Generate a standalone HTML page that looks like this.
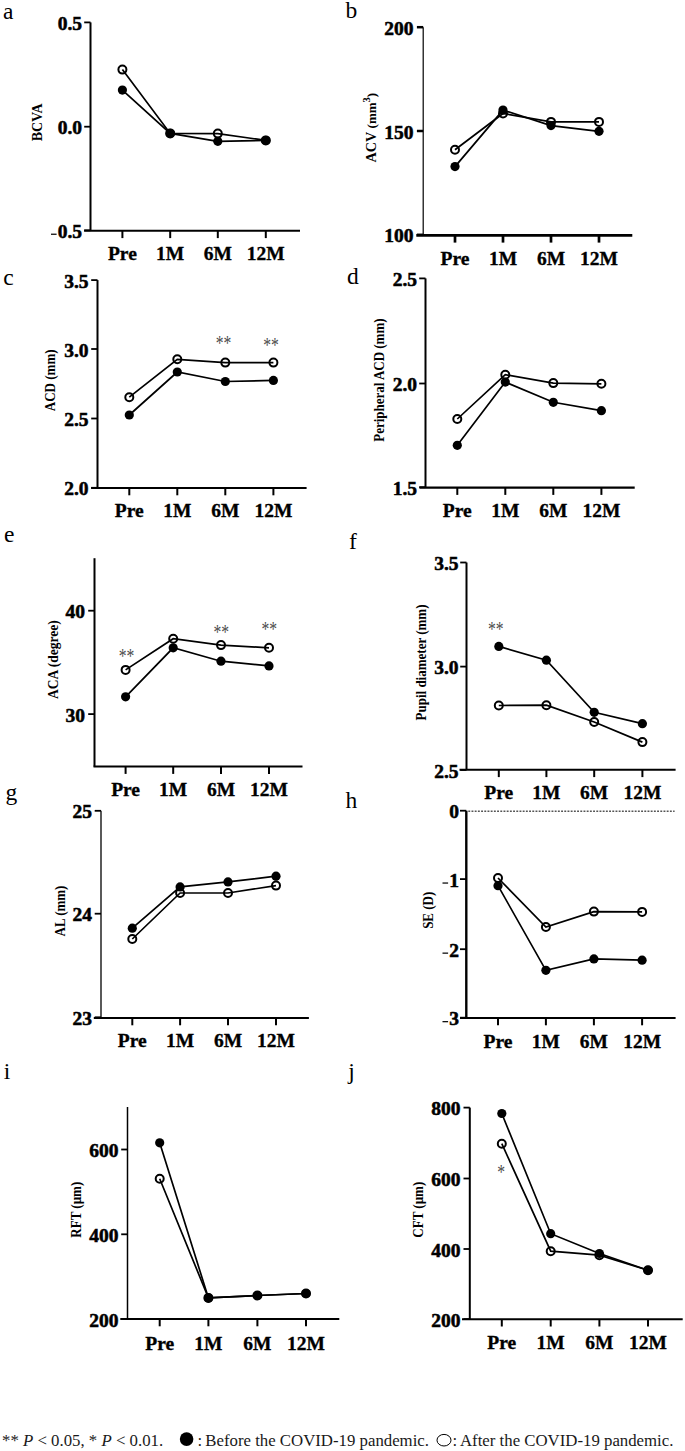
<!DOCTYPE html>
<html><head><meta charset="utf-8"><title>Figure</title>
<style>
html,body{margin:0;padding:0;background:#fff;}
body{width:685px;height:1451px;overflow:hidden;}
svg{display:block;}
text{font-family:"Liberation Serif",serif;fill:#000;}
.pl{font-size:23.5px;}
.tk{font-size:19.5px;font-weight:bold;text-anchor:end;stroke:#000;stroke-width:0.55px;}
.ct{font-size:19.5px;font-weight:bold;text-anchor:middle;stroke:#000;stroke-width:0.35px;}
.tb{font-weight:bold;text-anchor:middle;}
.tr{text-anchor:middle;}
.st{font-size:17px;fill:#4a4a4a;text-anchor:middle;}
.lg{font-size:16.8px;fill:#1a1a1a;}
</style></head>
<body><svg width="685" height="1451" viewBox="0 0 685 1451">
<rect width="685" height="1451" fill="#fff"/>
<g>
<text x="3.1" y="19.4" class="pl">a</text>
<line x1="90.5" y1="22.4" x2="90.5" y2="230.8" stroke="#000" stroke-width="2"/>
<line x1="84.1" y1="230.8" x2="300" y2="230.8" stroke="#000" stroke-width="2"/>
<line x1="84.2" y1="22.4" x2="90.5" y2="22.4" stroke="#000" stroke-width="1.8"/>
<text x="82" y="30.0" class="tk">0.5</text>
<line x1="84.2" y1="126.7" x2="90.5" y2="126.7" stroke="#000" stroke-width="1.8"/>
<text x="82" y="134.3" class="tk">0.0</text>
<line x1="84.2" y1="230.3" x2="90.5" y2="230.3" stroke="#000" stroke-width="1.8"/>
<text x="82" y="237.9" class="tk">0.5</text>
<rect x="51.0" y="233.60000000000002" width="5.6" height="1.3" fill="#111"/>
<line x1="122.4" y1="230.8" x2="122.4" y2="238.10000000000002" stroke="#000" stroke-width="2.0"/>
<text x="122.4" y="260.3" class="ct">Pre</text>
<line x1="170.2" y1="230.8" x2="170.2" y2="238.10000000000002" stroke="#000" stroke-width="2.0"/>
<text x="170.2" y="260.3" class="ct">1M</text>
<line x1="217.8" y1="230.8" x2="217.8" y2="238.10000000000002" stroke="#000" stroke-width="2.0"/>
<text x="217.8" y="260.3" class="ct">6M</text>
<line x1="265.8" y1="230.8" x2="265.8" y2="238.10000000000002" stroke="#000" stroke-width="2.0"/>
<text x="265.8" y="260.3" class="ct">12M</text>
<text transform="translate(42.199999999999996,122.4) rotate(-90) scale(1,1)" class="tb" font-size="14">BCVA</text>
<polyline points="122.4,90.1 170.2,133.4 217.8,141.3 265.8,140.4" fill="none" stroke="#000" stroke-width="1.7"/>
<polyline points="122.4,69.6 170.2,133.4 217.8,133.6 265.8,140.4" fill="none" stroke="#000" stroke-width="1.7"/>
<circle cx="122.4" cy="69.6" r="4.0" fill="none" stroke="#000" stroke-width="2"/>
<circle cx="170.2" cy="133.4" r="4.0" fill="none" stroke="#000" stroke-width="2"/>
<circle cx="217.8" cy="133.6" r="4.0" fill="none" stroke="#000" stroke-width="2"/>
<circle cx="265.8" cy="140.4" r="4.0" fill="none" stroke="#000" stroke-width="2"/>
<circle cx="122.4" cy="90.1" r="4.6" fill="#000"/>
<circle cx="170.2" cy="133.4" r="4.6" fill="#000"/>
<circle cx="217.8" cy="141.3" r="4.6" fill="#000"/>
<circle cx="265.8" cy="140.4" r="4.6" fill="#000"/>
</g>
<g>
<text x="345.5" y="17.9" class="pl">b</text>
<line x1="423.2" y1="27.2" x2="423.2" y2="235.3" stroke="#000" stroke-width="1.2"/>
<line x1="416.3" y1="235.3" x2="632.3" y2="235.3" stroke="#000" stroke-width="2.7"/>
<line x1="416.9" y1="27.2" x2="423.2" y2="27.2" stroke="#000" stroke-width="2.5"/>
<text x="413.5" y="34.8" class="tk">200</text>
<line x1="416.9" y1="131" x2="423.2" y2="131" stroke="#000" stroke-width="2.5"/>
<text x="413.5" y="138.6" class="tk">150</text>
<line x1="416.9" y1="234.8" x2="423.2" y2="234.8" stroke="#000" stroke-width="2.5"/>
<text x="413.5" y="242.4" class="tk">100</text>
<line x1="455" y1="235.3" x2="455" y2="242.60000000000002" stroke="#000" stroke-width="2.7"/>
<text x="455" y="264.9" class="ct">Pre</text>
<line x1="503" y1="235.3" x2="503" y2="242.60000000000002" stroke="#000" stroke-width="2.7"/>
<text x="503" y="264.9" class="ct">1M</text>
<line x1="551" y1="235.3" x2="551" y2="242.60000000000002" stroke="#000" stroke-width="2.7"/>
<text x="551" y="264.9" class="ct">6M</text>
<line x1="599" y1="235.3" x2="599" y2="242.60000000000002" stroke="#000" stroke-width="2.7"/>
<text x="599" y="264.9" class="ct">12M</text>
<text transform="translate(375.8,127.6) rotate(-90) scale(1,1)" class="tb" font-size="13"><tspan font-size="14.2">ACV</tspan> <tspan font-size="13">(mm</tspan><tspan dy="-5.5" font-size="10.5">3</tspan><tspan dy="5.5" font-size="13">)</tspan></text>
<polyline points="455,166.6 503,110.1 551,125.6 599,131.3" fill="none" stroke="#000" stroke-width="1.7"/>
<polyline points="455,149.8 503,113.5 551,121.9 599,121.9" fill="none" stroke="#000" stroke-width="1.7"/>
<circle cx="455" cy="149.8" r="4.0" fill="none" stroke="#000" stroke-width="2"/>
<circle cx="503" cy="113.5" r="4.0" fill="none" stroke="#000" stroke-width="2"/>
<circle cx="551" cy="121.9" r="4.0" fill="none" stroke="#000" stroke-width="2"/>
<circle cx="599" cy="121.9" r="4.0" fill="none" stroke="#000" stroke-width="2"/>
<circle cx="455" cy="166.6" r="4.6" fill="#000"/>
<circle cx="503" cy="110.1" r="4.6" fill="#000"/>
<circle cx="551" cy="125.6" r="4.6" fill="#000"/>
<circle cx="599" cy="131.3" r="4.6" fill="#000"/>
</g>
<g>
<text x="3.2" y="285.1" class="pl">c</text>
<line x1="97.5" y1="280.1" x2="97.5" y2="488.0" stroke="#000" stroke-width="2"/>
<line x1="91.1" y1="488.0" x2="306.6" y2="488.0" stroke="#000" stroke-width="2"/>
<line x1="91.2" y1="280.1" x2="97.5" y2="280.1" stroke="#000" stroke-width="1.8"/>
<text x="88.5" y="287.70000000000005" class="tk">3.5</text>
<line x1="91.2" y1="349" x2="97.5" y2="349" stroke="#000" stroke-width="1.8"/>
<text x="88.5" y="356.6" class="tk">3.0</text>
<line x1="91.2" y1="418.5" x2="97.5" y2="418.5" stroke="#000" stroke-width="1.8"/>
<text x="88.5" y="426.1" class="tk">2.5</text>
<line x1="91.2" y1="487.8" x2="97.5" y2="487.8" stroke="#000" stroke-width="1.8"/>
<text x="88.5" y="495.40000000000003" class="tk">2.0</text>
<line x1="129.3" y1="488.0" x2="129.3" y2="495.3" stroke="#000" stroke-width="2.0"/>
<text x="129.3" y="517.1" class="ct">Pre</text>
<line x1="177.3" y1="488.0" x2="177.3" y2="495.3" stroke="#000" stroke-width="2.0"/>
<text x="177.3" y="517.1" class="ct">1M</text>
<line x1="225.3" y1="488.0" x2="225.3" y2="495.3" stroke="#000" stroke-width="2.0"/>
<text x="225.3" y="517.1" class="ct">6M</text>
<line x1="273.4" y1="488.0" x2="273.4" y2="495.3" stroke="#000" stroke-width="2.0"/>
<text x="273.4" y="517.1" class="ct">12M</text>
<text transform="translate(55.0,380.3) rotate(-90) scale(1,1.2)" class="tb" font-size="13">ACD (mm)</text>
<polyline points="129.3,415 177.3,372 225.3,381.5 273.4,380.4" fill="none" stroke="#000" stroke-width="1.7"/>
<polyline points="129.3,397.2 177.3,359.3 225.3,362.6 273.4,362.6" fill="none" stroke="#000" stroke-width="1.7"/>
<circle cx="129.3" cy="397.2" r="4.0" fill="none" stroke="#000" stroke-width="2"/>
<circle cx="177.3" cy="359.3" r="4.0" fill="none" stroke="#000" stroke-width="2"/>
<circle cx="225.3" cy="362.6" r="4.0" fill="none" stroke="#000" stroke-width="2"/>
<circle cx="273.4" cy="362.6" r="4.0" fill="none" stroke="#000" stroke-width="2"/>
<circle cx="129.3" cy="415" r="4.6" fill="#000"/>
<circle cx="177.3" cy="372" r="4.6" fill="#000"/>
<circle cx="225.3" cy="381.5" r="4.6" fill="#000"/>
<circle cx="273.4" cy="380.4" r="4.6" fill="#000"/>
<text transform="translate(223.5,349.7) scale(0.92,1.22)" class="st">**</text>
<text transform="translate(271.1,352.2) scale(0.92,1.22)" class="st">**</text>
</g>
<g>
<text x="347.0" y="283.6" class="pl">d</text>
<line x1="425.5" y1="278.4" x2="425.5" y2="487.6" stroke="#000" stroke-width="2"/>
<line x1="419.5" y1="487.6" x2="634.7" y2="487.6" stroke="#000" stroke-width="2.4"/>
<line x1="419.2" y1="278.4" x2="425.5" y2="278.4" stroke="#000" stroke-width="1.8"/>
<text x="417" y="286.0" class="tk">2.5</text>
<line x1="419.2" y1="383.5" x2="425.5" y2="383.5" stroke="#000" stroke-width="1.8"/>
<text x="417" y="391.1" class="tk">2.0</text>
<line x1="419.2" y1="487.2" x2="425.5" y2="487.2" stroke="#000" stroke-width="1.8"/>
<text x="417" y="494.8" class="tk">1.5</text>
<line x1="457.3" y1="487.6" x2="457.3" y2="494.90000000000003" stroke="#000" stroke-width="2.0"/>
<text x="457.3" y="517.1" class="ct">Pre</text>
<line x1="505.3" y1="487.6" x2="505.3" y2="494.90000000000003" stroke="#000" stroke-width="2.0"/>
<text x="505.3" y="517.1" class="ct">1M</text>
<line x1="553.3" y1="487.6" x2="553.3" y2="494.90000000000003" stroke="#000" stroke-width="2.0"/>
<text x="553.3" y="517.1" class="ct">6M</text>
<line x1="601.4" y1="487.6" x2="601.4" y2="494.90000000000003" stroke="#000" stroke-width="2.0"/>
<text x="601.4" y="517.1" class="ct">12M</text>
<text transform="translate(383.90000000000003,380.1) rotate(-90) scale(1,1.15)" class="tb" font-size="13">Peripheral ACD (mm)</text>
<polyline points="457.3,445.3 505.3,382.1 553.3,402.3 601.4,410.7" fill="none" stroke="#000" stroke-width="1.7"/>
<polyline points="457.3,419 505.3,374.7 553.3,383.1 601.4,383.8" fill="none" stroke="#000" stroke-width="1.7"/>
<circle cx="457.3" cy="419" r="4.0" fill="none" stroke="#000" stroke-width="2"/>
<circle cx="505.3" cy="374.7" r="4.0" fill="none" stroke="#000" stroke-width="2"/>
<circle cx="553.3" cy="383.1" r="4.0" fill="none" stroke="#000" stroke-width="2"/>
<circle cx="601.4" cy="383.8" r="4.0" fill="none" stroke="#000" stroke-width="2"/>
<circle cx="457.3" cy="445.3" r="4.6" fill="#000"/>
<circle cx="505.3" cy="382.1" r="4.6" fill="#000"/>
<circle cx="553.3" cy="402.3" r="4.6" fill="#000"/>
<circle cx="601.4" cy="410.7" r="4.6" fill="#000"/>
</g>
<g>
<text x="4.1" y="541.6" class="pl">e</text>
<line x1="94.5" y1="558.2" x2="94.5" y2="766.6" stroke="#000" stroke-width="2"/>
<line x1="93.5" y1="766.6" x2="302.5" y2="766.6" stroke="#000" stroke-width="2"/>
<line x1="88.2" y1="610.7" x2="94.5" y2="610.7" stroke="#000" stroke-width="1.8"/>
<text x="85" y="618.3000000000001" class="tk">40</text>
<line x1="88.2" y1="714.1" x2="94.5" y2="714.1" stroke="#000" stroke-width="1.8"/>
<text x="85" y="721.7" class="tk">30</text>
<line x1="125.6" y1="766.6" x2="125.6" y2="773.9" stroke="#000" stroke-width="2.0"/>
<text x="125.6" y="795.7" class="ct">Pre</text>
<line x1="173.2" y1="766.6" x2="173.2" y2="773.9" stroke="#000" stroke-width="2.0"/>
<text x="173.2" y="795.7" class="ct">1M</text>
<line x1="221" y1="766.6" x2="221" y2="773.9" stroke="#000" stroke-width="2.0"/>
<text x="221" y="795.7" class="ct">6M</text>
<line x1="269" y1="766.6" x2="269" y2="773.9" stroke="#000" stroke-width="2.0"/>
<text x="269" y="795.7" class="ct">12M</text>
<text transform="translate(57.5,659.6) rotate(-90) scale(1,1.1)" class="tb" font-size="13.5">ACA (degree)</text>
<polyline points="125.6,696.8 173.2,647.8 221,661.2 269,665.9" fill="none" stroke="#000" stroke-width="1.7"/>
<polyline points="125.6,669.9 173.2,638.7 221,645.1 269,647.8" fill="none" stroke="#000" stroke-width="1.7"/>
<circle cx="125.6" cy="669.9" r="4.0" fill="none" stroke="#000" stroke-width="2"/>
<circle cx="173.2" cy="638.7" r="4.0" fill="none" stroke="#000" stroke-width="2"/>
<circle cx="221" cy="645.1" r="4.0" fill="none" stroke="#000" stroke-width="2"/>
<circle cx="269" cy="647.8" r="4.0" fill="none" stroke="#000" stroke-width="2"/>
<circle cx="125.6" cy="696.8" r="4.6" fill="#000"/>
<circle cx="173.2" cy="647.8" r="4.6" fill="#000"/>
<circle cx="221" cy="661.2" r="4.6" fill="#000"/>
<circle cx="269" cy="665.9" r="4.6" fill="#000"/>
<text transform="translate(126.6,662.7) scale(0.92,1.22)" class="st">**</text>
<text transform="translate(221.3,638.5) scale(0.92,1.22)" class="st">**</text>
<text transform="translate(269.3,635.6) scale(0.92,1.22)" class="st">**</text>
</g>
<g>
<text x="349.0" y="548.6" class="pl">f</text>
<line x1="466.5" y1="562.5" x2="466.5" y2="769.8" stroke="#000" stroke-width="2"/>
<line x1="459.5" y1="769.8" x2="675.6" y2="769.8" stroke="#000" stroke-width="2"/>
<line x1="460.2" y1="562.5" x2="466.5" y2="562.5" stroke="#000" stroke-width="1.8"/>
<text x="458.5" y="570.1" class="tk">3.5</text>
<line x1="460.2" y1="666.6" x2="466.5" y2="666.6" stroke="#000" stroke-width="1.8"/>
<text x="458.5" y="674.2" class="tk">3.0</text>
<line x1="460.2" y1="770" x2="466.5" y2="770" stroke="#000" stroke-width="1.8"/>
<text x="458.5" y="777.6" class="tk">2.5</text>
<line x1="498.8" y1="769.8" x2="498.8" y2="777.0999999999999" stroke="#000" stroke-width="2.0"/>
<text x="498.8" y="799.3000000000001" class="ct">Pre</text>
<line x1="546.4" y1="769.8" x2="546.4" y2="777.0999999999999" stroke="#000" stroke-width="2.0"/>
<text x="546.4" y="799.3000000000001" class="ct">1M</text>
<line x1="594.2" y1="769.8" x2="594.2" y2="777.0999999999999" stroke="#000" stroke-width="2.0"/>
<text x="594.2" y="799.3000000000001" class="ct">6M</text>
<line x1="642.4" y1="769.8" x2="642.4" y2="777.0999999999999" stroke="#000" stroke-width="2.0"/>
<text x="642.4" y="799.3000000000001" class="ct">12M</text>
<text transform="translate(425.5,662.5) rotate(-90) scale(1,1.2)" class="tb" font-size="13">Pupil diameter (mm)</text>
<polyline points="498.8,646.4 546.4,660.2 594.2,712.3 642.4,723.7" fill="none" stroke="#000" stroke-width="1.7"/>
<polyline points="498.8,705.5 546.4,705.2 594.2,722 642.4,742.1" fill="none" stroke="#000" stroke-width="1.7"/>
<circle cx="498.8" cy="705.5" r="4.0" fill="none" stroke="#000" stroke-width="2"/>
<circle cx="546.4" cy="705.2" r="4.0" fill="none" stroke="#000" stroke-width="2"/>
<circle cx="594.2" cy="722" r="4.0" fill="none" stroke="#000" stroke-width="2"/>
<circle cx="642.4" cy="742.1" r="4.0" fill="none" stroke="#000" stroke-width="2"/>
<circle cx="498.8" cy="646.4" r="4.6" fill="#000"/>
<circle cx="546.4" cy="660.2" r="4.6" fill="#000"/>
<circle cx="594.2" cy="712.3" r="4.6" fill="#000"/>
<circle cx="642.4" cy="723.7" r="4.6" fill="#000"/>
<text transform="translate(495.8,636.2) scale(0.92,1.22)" class="st">**</text>
</g>
<g>
<text x="5.6" y="800.0" class="pl">g</text>
<line x1="101" y1="810.8" x2="101" y2="1018.0" stroke="#000" stroke-width="1.3"/>
<line x1="93.8" y1="1018.0" x2="308.9" y2="1018.0" stroke="#000" stroke-width="2"/>
<line x1="94.7" y1="810.8" x2="101" y2="810.8" stroke="#000" stroke-width="1.8"/>
<text x="92" y="818.4" class="tk">25</text>
<line x1="94.7" y1="913.7" x2="101" y2="913.7" stroke="#000" stroke-width="1.8"/>
<text x="92" y="921.3000000000001" class="tk">24</text>
<line x1="94.7" y1="1017.3" x2="101" y2="1017.3" stroke="#000" stroke-width="1.8"/>
<text x="92" y="1024.8999999999999" class="tk">23</text>
<line x1="132.3" y1="1018.0" x2="132.3" y2="1025.3" stroke="#000" stroke-width="2.0"/>
<text x="132.3" y="1047.1000000000001" class="ct">Pre</text>
<line x1="180.1" y1="1018.0" x2="180.1" y2="1025.3" stroke="#000" stroke-width="2.0"/>
<text x="180.1" y="1047.1000000000001" class="ct">1M</text>
<line x1="228" y1="1018.0" x2="228" y2="1025.3" stroke="#000" stroke-width="2.0"/>
<text x="228" y="1047.1000000000001" class="ct">6M</text>
<line x1="276" y1="1018.0" x2="276" y2="1025.3" stroke="#000" stroke-width="2.0"/>
<text x="276" y="1047.1000000000001" class="ct">12M</text>
<text transform="translate(64.5,911) rotate(-90) scale(1,1.2)" class="tb" font-size="13">AL (mm)</text>
<polyline points="132.3,928.2 180.1,886.9 228,881.9 276,876.2" fill="none" stroke="#000" stroke-width="1.7"/>
<polyline points="132.3,939 180.1,893 228,893 276,885.6" fill="none" stroke="#000" stroke-width="1.7"/>
<circle cx="132.3" cy="939" r="4.0" fill="none" stroke="#000" stroke-width="2"/>
<circle cx="180.1" cy="893" r="4.0" fill="none" stroke="#000" stroke-width="2"/>
<circle cx="228" cy="893" r="4.0" fill="none" stroke="#000" stroke-width="2"/>
<circle cx="276" cy="885.6" r="4.0" fill="none" stroke="#000" stroke-width="2"/>
<circle cx="132.3" cy="928.2" r="4.6" fill="#000"/>
<circle cx="180.1" cy="886.9" r="4.6" fill="#000"/>
<circle cx="228" cy="881.9" r="4.6" fill="#000"/>
<circle cx="276" cy="876.2" r="4.6" fill="#000"/>
</g>
<g>
<text x="345.5" y="808.4" class="pl">h</text>
<line x1="466.3" y1="810.7" x2="466.3" y2="1018.0" stroke="#000" stroke-width="2.4"/>
<line x1="460" y1="1018.0" x2="675.6" y2="1018.0" stroke="#000" stroke-width="2"/>
<line x1="460.0" y1="810.7" x2="466.3" y2="810.7" stroke="#000" stroke-width="1.8"/>
<text x="459" y="818.3000000000001" class="tk">0</text>
<line x1="460.0" y1="879.1" x2="466.3" y2="879.1" stroke="#000" stroke-width="1.8"/>
<text x="459" y="886.7" class="tk">1</text>
<rect x="442.5" y="882.4" width="5.6" height="1.3" fill="#111"/>
<line x1="460.0" y1="949.2" x2="466.3" y2="949.2" stroke="#000" stroke-width="1.8"/>
<text x="459" y="956.8000000000001" class="tk">2</text>
<rect x="442.5" y="952.5" width="5.6" height="1.3" fill="#111"/>
<line x1="460.0" y1="1017.7" x2="466.3" y2="1017.7" stroke="#000" stroke-width="1.8"/>
<text x="459" y="1025.3" class="tk">3</text>
<rect x="442.5" y="1021.0" width="5.6" height="1.3" fill="#111"/>
<line x1="498" y1="1018.0" x2="498" y2="1025.3" stroke="#000" stroke-width="2.0"/>
<text x="498" y="1047.6000000000001" class="ct">Pre</text>
<line x1="545.9" y1="1018.0" x2="545.9" y2="1025.3" stroke="#000" stroke-width="2.0"/>
<text x="545.9" y="1047.6000000000001" class="ct">1M</text>
<line x1="593.9" y1="1018.0" x2="593.9" y2="1025.3" stroke="#000" stroke-width="2.0"/>
<text x="593.9" y="1047.6000000000001" class="ct">6M</text>
<line x1="642.1" y1="1018.0" x2="642.1" y2="1025.3" stroke="#000" stroke-width="2.0"/>
<text x="642.1" y="1047.6000000000001" class="ct">12M</text>
<line x1="468.3" y1="811.2" x2="674.6" y2="811.2" stroke="#555" stroke-width="1.5" stroke-dasharray="1.9 1.3"/>
<text transform="translate(433.1,910.3) rotate(-90) scale(1,1.2)" class="tb" font-size="13">SE (D)</text>
<polyline points="498,885.7 545.9,970.3 593.9,958.9 642.1,960.2" fill="none" stroke="#000" stroke-width="1.7"/>
<polyline points="498,878 545.9,927 593.9,911.6 642.1,911.9" fill="none" stroke="#000" stroke-width="1.7"/>
<circle cx="498" cy="878" r="4.0" fill="none" stroke="#000" stroke-width="2"/>
<circle cx="545.9" cy="927" r="4.0" fill="none" stroke="#000" stroke-width="2"/>
<circle cx="593.9" cy="911.6" r="4.0" fill="none" stroke="#000" stroke-width="2"/>
<circle cx="642.1" cy="911.9" r="4.0" fill="none" stroke="#000" stroke-width="2"/>
<circle cx="498" cy="885.7" r="4.6" fill="#000"/>
<circle cx="545.9" cy="970.3" r="4.6" fill="#000"/>
<circle cx="593.9" cy="958.9" r="4.6" fill="#000"/>
<circle cx="642.1" cy="960.2" r="4.6" fill="#000"/>
</g>
<g>
<text x="3.8" y="1078.8" class="pl">i</text>
<line x1="127.5" y1="1107" x2="127.5" y2="1319" stroke="#000" stroke-width="1.5"/>
<line x1="120.3" y1="1319" x2="339.3" y2="1319" stroke="#000" stroke-width="2"/>
<line x1="121.2" y1="1149.5" x2="127.5" y2="1149.5" stroke="#000" stroke-width="1.8"/>
<text x="118.5" y="1157.1" class="tk">600</text>
<line x1="121.2" y1="1234.3" x2="127.5" y2="1234.3" stroke="#000" stroke-width="1.8"/>
<text x="118.5" y="1241.8999999999999" class="tk">400</text>
<line x1="121.2" y1="1319.1" x2="127.5" y2="1319.1" stroke="#000" stroke-width="1.8"/>
<text x="118.5" y="1326.6999999999998" class="tk">200</text>
<line x1="159.7" y1="1319" x2="159.7" y2="1326.3" stroke="#000" stroke-width="2.0"/>
<text x="159.7" y="1349.7" class="ct">Pre</text>
<line x1="208.4" y1="1319" x2="208.4" y2="1326.3" stroke="#000" stroke-width="2.0"/>
<text x="208.4" y="1349.7" class="ct">1M</text>
<line x1="257.4" y1="1319" x2="257.4" y2="1326.3" stroke="#000" stroke-width="2.0"/>
<text x="257.4" y="1349.7" class="ct">6M</text>
<line x1="306" y1="1319" x2="306" y2="1326.3" stroke="#000" stroke-width="2.0"/>
<text x="306" y="1349.7" class="ct">12M</text>
<text transform="translate(81.1,1209.7) rotate(-90) scale(1,1.2)" class="tb" font-size="13">RFT (µm)</text>
<polyline points="159.7,1142.8 208.4,1297.9 257.4,1295.5 306,1293.5" fill="none" stroke="#000" stroke-width="1.7"/>
<polyline points="159.7,1178.7 208.4,1297.9 257.4,1295.5 306,1293.5" fill="none" stroke="#000" stroke-width="1.7"/>
<circle cx="159.7" cy="1178.7" r="4.0" fill="none" stroke="#000" stroke-width="2"/>
<circle cx="208.4" cy="1297.9" r="4.0" fill="none" stroke="#000" stroke-width="2"/>
<circle cx="257.4" cy="1295.5" r="4.0" fill="none" stroke="#000" stroke-width="2"/>
<circle cx="306" cy="1293.5" r="4.0" fill="none" stroke="#000" stroke-width="2"/>
<circle cx="159.7" cy="1142.8" r="4.6" fill="#000"/>
<circle cx="208.4" cy="1297.9" r="4.6" fill="#000"/>
<circle cx="257.4" cy="1295.5" r="4.6" fill="#000"/>
<circle cx="306" cy="1293.5" r="4.6" fill="#000"/>
</g>
<g>
<text x="348.3" y="1078.8" class="pl">j</text>
<line x1="469.8" y1="1107.6" x2="469.8" y2="1319.2" stroke="#000" stroke-width="2"/>
<line x1="462" y1="1319.2" x2="682.7" y2="1319.2" stroke="#000" stroke-width="2"/>
<line x1="463.5" y1="1107.6" x2="469.8" y2="1107.6" stroke="#000" stroke-width="1.8"/>
<text x="460.5" y="1115.1999999999998" class="tk">800</text>
<line x1="463.5" y1="1178.5" x2="469.8" y2="1178.5" stroke="#000" stroke-width="1.8"/>
<text x="460.5" y="1186.1" class="tk">600</text>
<line x1="463.5" y1="1249" x2="469.8" y2="1249" stroke="#000" stroke-width="1.8"/>
<text x="460.5" y="1256.6" class="tk">400</text>
<line x1="463.5" y1="1319.1" x2="469.8" y2="1319.1" stroke="#000" stroke-width="1.8"/>
<text x="460.5" y="1326.6999999999998" class="tk">200</text>
<line x1="501.8" y1="1319.2" x2="501.8" y2="1326.5" stroke="#000" stroke-width="2.0"/>
<text x="501.8" y="1349.3" class="ct">Pre</text>
<line x1="550.7" y1="1319.2" x2="550.7" y2="1326.5" stroke="#000" stroke-width="2.0"/>
<text x="550.7" y="1349.3" class="ct">1M</text>
<line x1="599.4" y1="1319.2" x2="599.4" y2="1326.5" stroke="#000" stroke-width="2.0"/>
<text x="599.4" y="1349.3" class="ct">6M</text>
<line x1="648" y1="1319.2" x2="648" y2="1326.5" stroke="#000" stroke-width="2.0"/>
<text x="648" y="1349.3" class="ct">12M</text>
<text transform="translate(422.90000000000003,1209.7) rotate(-90) scale(1,1.2)" class="tb" font-size="13">CFT (µm)</text>
<polyline points="501.8,1113.5 550.7,1233.7 599.4,1253.5 648,1270.3" fill="none" stroke="#000" stroke-width="1.7"/>
<polyline points="501.8,1143.7 550.7,1251.2 599.4,1255.2 648,1270.3" fill="none" stroke="#000" stroke-width="1.7"/>
<circle cx="501.8" cy="1143.7" r="4.0" fill="none" stroke="#000" stroke-width="2"/>
<circle cx="550.7" cy="1251.2" r="4.0" fill="none" stroke="#000" stroke-width="2"/>
<circle cx="599.4" cy="1255.2" r="4.0" fill="none" stroke="#000" stroke-width="2"/>
<circle cx="648" cy="1270.3" r="4.0" fill="none" stroke="#000" stroke-width="2"/>
<circle cx="501.8" cy="1113.5" r="4.6" fill="#000"/>
<circle cx="550.7" cy="1233.7" r="4.6" fill="#000"/>
<circle cx="599.4" cy="1253.5" r="4.6" fill="#000"/>
<circle cx="648" cy="1270.3" r="4.6" fill="#000"/>
<text transform="translate(501.2,1179.2) scale(0.92,1.22)" class="st">*</text>
</g>
<text x="2" y="1445.7" class="lg">** <tspan font-style="italic">P</tspan> &lt; 0.05, * <tspan font-style="italic">P</tspan> &lt; 0.01.</text>
<circle cx="186.6" cy="1439.1" r="6.8" fill="#000"/>
<text x="197.5" y="1445.7" class="lg">:</text><text x="205.3" y="1445.7" class="lg">Before the COVID-19 pandemic.</text>
<ellipse cx="444" cy="1440.2" rx="7" ry="5.8" fill="none" stroke="#000" stroke-width="1"/>
<text x="452.6" y="1445.7" class="lg">:</text><text x="460.0" y="1445.7" class="lg">After the COVID-19 pandemic.</text>
</svg></body></html>
